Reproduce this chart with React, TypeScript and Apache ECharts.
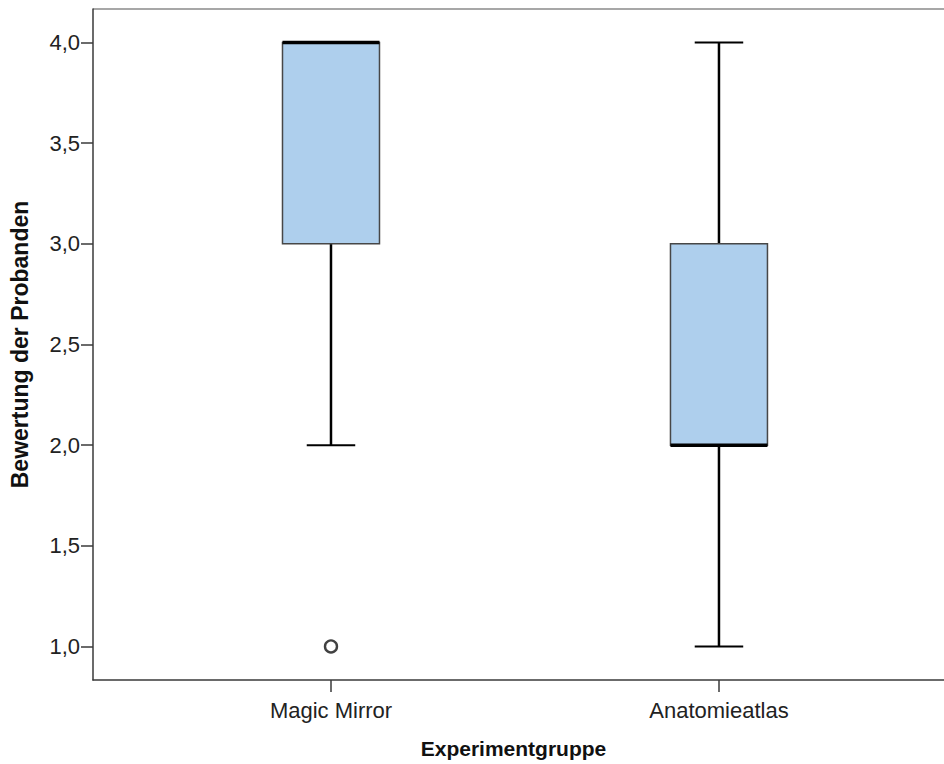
import React, { useEffect, useRef } from "react";
import * as echarts from "echarts";

const categories = ["Magic Mirror", "Anatomieatlas"];
const categoryPositions = [1, 2];
const lowerWhisker = [2.0, 1.0];
const q1 = [3.0, 2.0];
const median = [4.0, 2.0];
const q3 = [4.0, 3.0];
const upperWhisker = [4.0, 4.0];
const outliers = [[1, 1.0]];
const yTicks = [1.0, 1.5, 2.0, 2.5, 3.0, 3.5, 4.0];
const xTitle = "Experimentgruppe";
const yTitle = "Bewertung der Probanden";

const FONT = "'Liberation Sans', Arial, sans-serif";
const X_MIN = 0.3866;
const X_MAX = 2.58;

export default function App() {
  const ref = useRef<HTMLDivElement>(null);
  useEffect(() => {
    if (!ref.current) return;
    const chart = echarts.init(ref.current, null, { renderer: "svg" });
    const boxData = categoryPositions.map((p, i) => [
      p,
      lowerWhisker[i],
      q1[i],
      median[i],
      q3[i],
      upperWhisker[i],
    ]);
    const renderItem = (params: any, api: any) => {
      const x = api.value(0);
      const pMin = api.coord([x, api.value(1)]);
      const pQ1 = api.coord([x, api.value(2)]);
      const pMed = api.coord([x, api.value(3)]);
      const pQ3 = api.coord([x, api.value(4)]);
      const pMax = api.coord([x, api.value(5)]);
      const bw = api.size([1, 0])[0] * 0.25;
      const half = bw / 2;
      const cap = bw / 4;
      const cx = pMed[0];
      const wStyle = { stroke: "#000", lineWidth: 2.5 };
      const cStyle = { stroke: "#000", lineWidth: 2 };
      return {
        type: "group",
        children: [
          { type: "line", shape: { x1: cx, y1: pMin[1], x2: cx, y2: pQ1[1] }, style: wStyle },
          { type: "line", shape: { x1: cx, y1: pQ3[1], x2: cx, y2: pMax[1] }, style: wStyle },
          { type: "line", shape: { x1: cx - cap, y1: pMin[1], x2: cx + cap, y2: pMin[1] }, style: cStyle },
          { type: "line", shape: { x1: cx - cap, y1: pMax[1], x2: cx + cap, y2: pMax[1] }, style: cStyle },
          {
            type: "rect",
            shape: { x: cx - half, y: pQ3[1], width: bw, height: pQ1[1] - pQ3[1] },
            style: { fill: "#aecfed", stroke: "#474747", lineWidth: 1.5 },
          },
          {
            type: "line",
            shape: { x1: cx - half, y1: pMed[1], x2: cx + half, y2: pMed[1] },
            style: { stroke: "#000", lineWidth: 3.5 },
          },
        ],
      };
    };
    const axisColor = "#3a3a3a";
    chart.setOption({
      animation: false,
      backgroundColor: "#ffffff",
      textStyle: { fontFamily: FONT },
      grid: { left: 93, top: 9, right: 0, bottom: 81, show: false },
      graphic: [
        {
          type: "line",
          shape: { x1: 93, y1: 9, x2: 944, y2: 9 },
          style: { stroke: "#8a8a8a", lineWidth: 1.5 },
          silent: true,
        },
      ],
      xAxis: {
        type: "value",
        min: X_MIN,
        max: X_MAX,
        position: "bottom",
        axisLine: { show: true, onZero: false, lineStyle: { color: axisColor, width: 1.5 } },
        axisTick: {
          show: true,
          length: 12,
          customValues: categoryPositions,
          lineStyle: { color: axisColor, width: 1.5 },
        },
        axisLabel: {
          customValues: categoryPositions,
          formatter: (v: number) => {
            const i = categoryPositions.indexOf(v);
            return i >= 0 ? categories[i] : "";
          },
          fontSize: 22,
          color: "#222",
          margin: 19,
          fontFamily: FONT,
        },
        splitLine: { show: false },
        name: xTitle,
        nameLocation: "middle",
        nameGap: 58,
        nameTextStyle: {
          fontSize: 21,
          fontWeight: "bold",
          color: "#111",
          fontFamily: FONT,
          padding: [0, 10, 0, 0],
        },
      },
      yAxis: {
        type: "value",
        min: 0.8333,
        max: 4.1667,
        axisLine: { show: true, onZero: false, lineStyle: { color: axisColor, width: 1.5 } },
        axisTick: {
          show: true,
          length: 12,
          customValues: yTicks,
          lineStyle: { color: axisColor, width: 1.5 },
        },
        axisLabel: {
          customValues: yTicks,
          formatter: (v: number) => v.toFixed(1).replace(".", ","),
          fontSize: 22,
          color: "#222",
          margin: 13,
          fontFamily: FONT,
        },
        splitLine: { show: false },
        name: yTitle,
        nameLocation: "middle",
        nameGap: 62,
        nameRotate: 90,
        nameTextStyle: { fontSize: 23, fontWeight: "bold", color: "#111", fontFamily: FONT },
      },
      series: [
        {
          type: "custom",
          renderItem,
          data: boxData,
          encode: { x: 0, y: [1, 2, 3, 4, 5] },
          clip: false,
          z: 2,
        },
        {
          type: "scatter",
          data: outliers,
          symbol: "circle",
          symbolSize: 12,
          itemStyle: { color: "#fff", borderColor: "#111", borderWidth: 2.4 },
          z: 3,
        },
      ],
    });
    return () => chart.dispose();
  }, []);
  return (
    <div
      ref={ref}
      style={{ position: "fixed", left: 0, top: 0, width: 944, height: 764 }}
    />
  );
}
